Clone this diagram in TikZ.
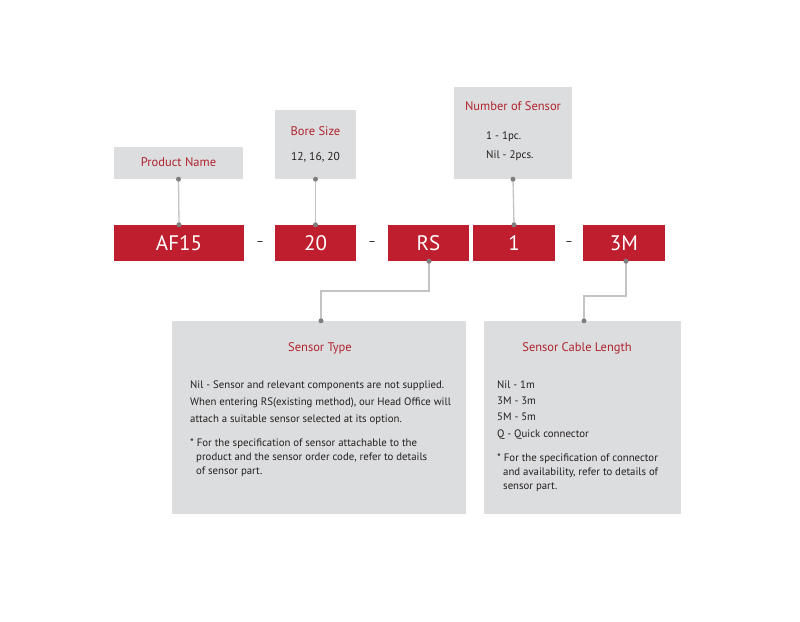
\documentclass[tikz,border=0pt]{standalone}
\usepackage{fontspec}
\setmainfont{PT Sans}
\definecolor{redbg}{HTML}{BE1E2D}
\definecolor{graybg}{HTML}{DCDDDE}
\definecolor{titlered}{HTML}{B0242F}
\definecolor{linegray}{HTML}{C4C4C4}
\definecolor{dotgray}{HTML}{7F7F7F}
\definecolor{txt}{HTML}{231F20}
\tikzset{
  redbox/.style={fill=redbg, draw=none, text=white, inner sep=0pt, minimum height=36pt,
    font=\fontsize{21}{21}\selectfont},
  graybox/.style={fill=graybg, draw=none, inner sep=0pt},
  ttl/.style={text=titlered, inner sep=0pt, font=\fontsize{12.5}{14}\selectfont},
  body/.style={text=txt, inner sep=0pt, align=left, anchor=north west},
  dashlbl/.style={text=txt, inner sep=0pt, font=\fontsize{12}{12}\selectfont},
  conn/.style={draw=linegray, line width=1.3pt},
  dot/.style={circle, fill=dotgray, inner sep=0pt, minimum size=5pt}
}
\begin{document}
\begin{tikzpicture}[x=1pt,y=-1pt]
\useasboundingbox[fill=white] (0,0) rectangle (800,621);
% red code boxes
\node[redbox, minimum width=130pt] (af) at (179,243) {AF15};
\node[redbox, minimum width=81pt] (bore) at (315.5,243) {20};
\node[redbox, minimum width=81pt] (rs) at (428.5,243) {RS};
\node[redbox, minimum width=82pt] (num) at (514,243) {1};
\node[redbox, minimum width=82pt] (len) at (624,243) {3M};
\node[dashlbl] (d1) at (260,244) {\textendash};
\node[dashlbl] (d2) at (372,244) {\textendash};
\node[dashlbl] (d3) at (569,244) {\textendash};
% upper gray boxes
\node[graybox, minimum width=129pt, minimum height=32pt] (pn) at (178.5,163) {};
\node[ttl] (pnt) at (178.5,162.5) {Product Name};
\node[graybox, minimum width=81pt, minimum height=69pt] (bs) at (315.5,144.5) {};
\node[ttl] (bst) at (315.5,131) {Bore Size};
\node[body, anchor=center, font=\fontsize{11.5}{14}\selectfont] (bsv) at (315.5,157) {12, 16, 20};
\node[graybox, minimum width=118pt, minimum height=92pt] (ns) at (513,133) {};
\node[ttl] (nst) at (513,106) {Number of Sensor};
\node[body, anchor=west, font=\fontsize{11}{19}\selectfont] (nsv) at (486,146.5) {1 - 1pc.\\Nil - 2pcs.};
% lower gray boxes
\node[graybox, minimum width=294pt, minimum height=193pt] (st) at (319,417.5) {};
\node[ttl] (stt) at (320,348) {Sensor Type};
\node[body, font=\fontsize{10.8}{17}\selectfont] (stv) at (190,380.5) {Nil - Sensor and relevant components are not supplied.\\When entering RS(existing method), our Head Office will\\attach a suitable sensor selected at its option.};
\node[body, font=\fontsize{10.8}{14}\selectfont] (stn) at (190,438.5) {* For the specification of sensor attachable to the\\\hspace*{6pt}product and the sensor order code, refer to details\\\hspace*{6pt}of sensor part.};
\node[graybox, minimum width=197pt, minimum height=193pt] (cl) at (582.5,417.5) {};
\node[ttl] (clt) at (577,348) {Sensor Cable Length};
\node[body, font=\fontsize{10.8}{16.3}\selectfont] (clv) at (497,380.5) {Nil - 1m\\3M - 3m\\5M - 5m\\Q - Quick connector};
\node[body, font=\fontsize{10.8}{14}\selectfont] (cln) at (497,453.5) {* For the specification of connector\\\hspace*{6pt}and availability, refer to details of\\\hspace*{6pt}sensor part.};
% connectors
\draw[conn] (pn.south) -- (af.north);
\draw[conn] (bs.south) -- (bore.north);
\draw[conn] (ns.south) -- (num.north);
\coordinate (rsA) at (429,291);
\coordinate (rsB) at (321,291);
\draw[conn] (rs.south -| rsA) -- (rsA) -- (rsB) -- (rsB |- st.north);
\coordinate (lenA) at (626,296);
\coordinate (lenB) at (584,296);
\draw[conn] (len.south -| lenA) -- (lenA) -- (lenB) -- (lenB |- cl.north);
% dots
\node[dot] (p1) at (pn.south) {};
\node[dot] (p2) at (af.north) {};
\node[dot] (p3) at (bs.south) {};
\node[dot] (p4) at (bore.north) {};
\node[dot] (p5) at (ns.south) {};
\node[dot] (p6) at (num.north) {};
\node[dot] (p7) at (rs.south -| rsA) {};
\node[dot] (p8) at (rsB |- st.north) {};
\node[dot] (p9) at (len.south -| lenA) {};
\node[dot] (p10) at (lenB |- cl.north) {};
\end{tikzpicture}
\end{document}
